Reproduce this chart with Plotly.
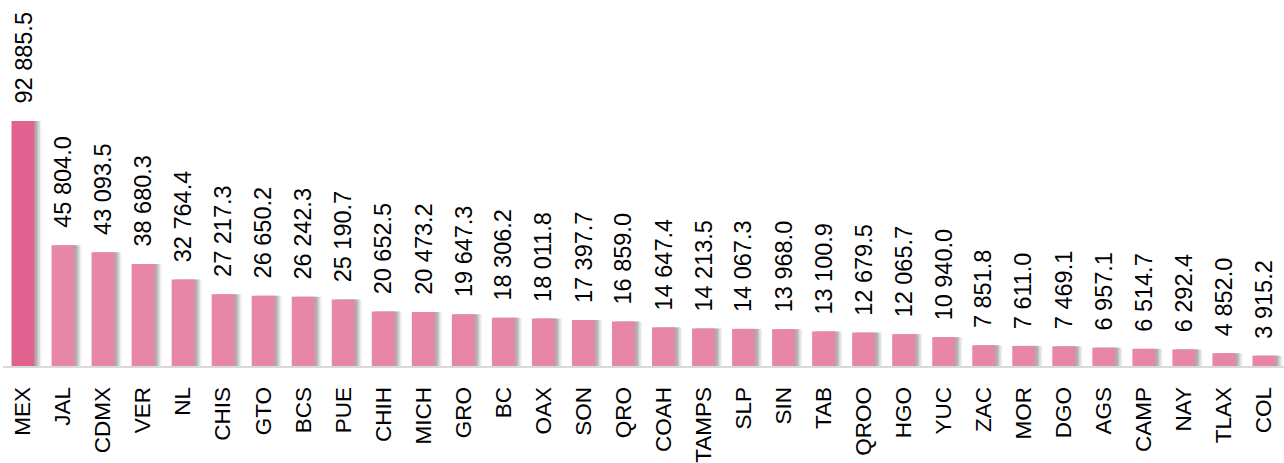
import plotly.graph_objects as go

states = ["MEX", "JAL", "CDMX", "VER", "NL", "CHIS", "GTO", "BCS", "PUE", "CHIH",
          "MICH", "GRO", "BC", "OAX", "SON", "QRO", "COAH", "TAMPS", "SLP", "SIN",
          "TAB", "QROO", "HGO", "YUC", "ZAC", "MOR", "DGO", "AGS", "CAMP", "NAY",
          "TLAX", "COL"]
values = [92885.5, 45804.0, 43093.5, 38680.3, 32764.4, 27217.3, 26650.2, 26242.3,
          25190.7, 20652.5, 20473.2, 19647.3, 18306.2, 18011.8, 17397.7, 16859.0,
          14647.4, 14213.5, 14067.3, 13968.0, 13100.9, 12679.5, 12065.7, 10940.0,
          7851.8, 7611.0, 7469.1, 6957.1, 6514.7, 6292.4, 4852.0, 3915.2]

def fmt(v):
    s = f"{v:,.1f}"
    return s.replace(",", " ")

labels = [fmt(v) for v in values]
colors = ["#E0638F"] + ["#E886A8"] * (len(values) - 1)

W = 0.575
px = 1 / 40.03

fig = go.Figure()
# soft shadows
for dx, op in [(7, 0.08), (5.5, 0.12), (4, 0.16), (2.5, 0.2)]:
    fig.add_trace(go.Bar(
        x=states, y=values, width=W, offset=-W / 2 + dx * px,
        marker=dict(color=f"rgba(80,80,80,{op})", line=dict(width=0)),
        hoverinfo="skip", showlegend=False))
fig.add_trace(go.Bar(
    x=states, y=values, width=W, offset=-W / 2,
    marker=dict(color=colors, line=dict(width=0)),
    showlegend=False))

for s, v, t in zip(states, values, labels):
    fig.add_annotation(x=s, y=v, text=t, textangle=-90, showarrow=False,
                       xanchor="center", yanchor="bottom", yshift=15,
                       font=dict(family="Liberation Sans, Arial", size=23.5, color="#000"))

fig.update_layout(
    width=1284, height=463,
    margin=dict(l=3, r=0, t=0, b=97, autoexpand=False),
    barmode="overlay",
    plot_bgcolor="white", paper_bgcolor="white",
    font=dict(family="Liberation Sans, Arial", color="#000"),
    xaxis=dict(type="category", tickangle=-90, showgrid=False, showline=True,
               linecolor="#d9d9d9", linewidth=2, ticks="", zeroline=False,
               automargin=False, ticklabelstandoff=10,
               tickfont=dict(size=22.5, color="#000"), range=[-0.5, 31.5]),
    yaxis=dict(visible=False, range=[0, 92885.5 * 366 / 245], showgrid=False,
               zeroline=False, automargin=False),
)

fig.write_html("out.html", config={"displayModeBar": False},
               post_script="document.body.style.margin='0';document.body.style.overflow='hidden';")
